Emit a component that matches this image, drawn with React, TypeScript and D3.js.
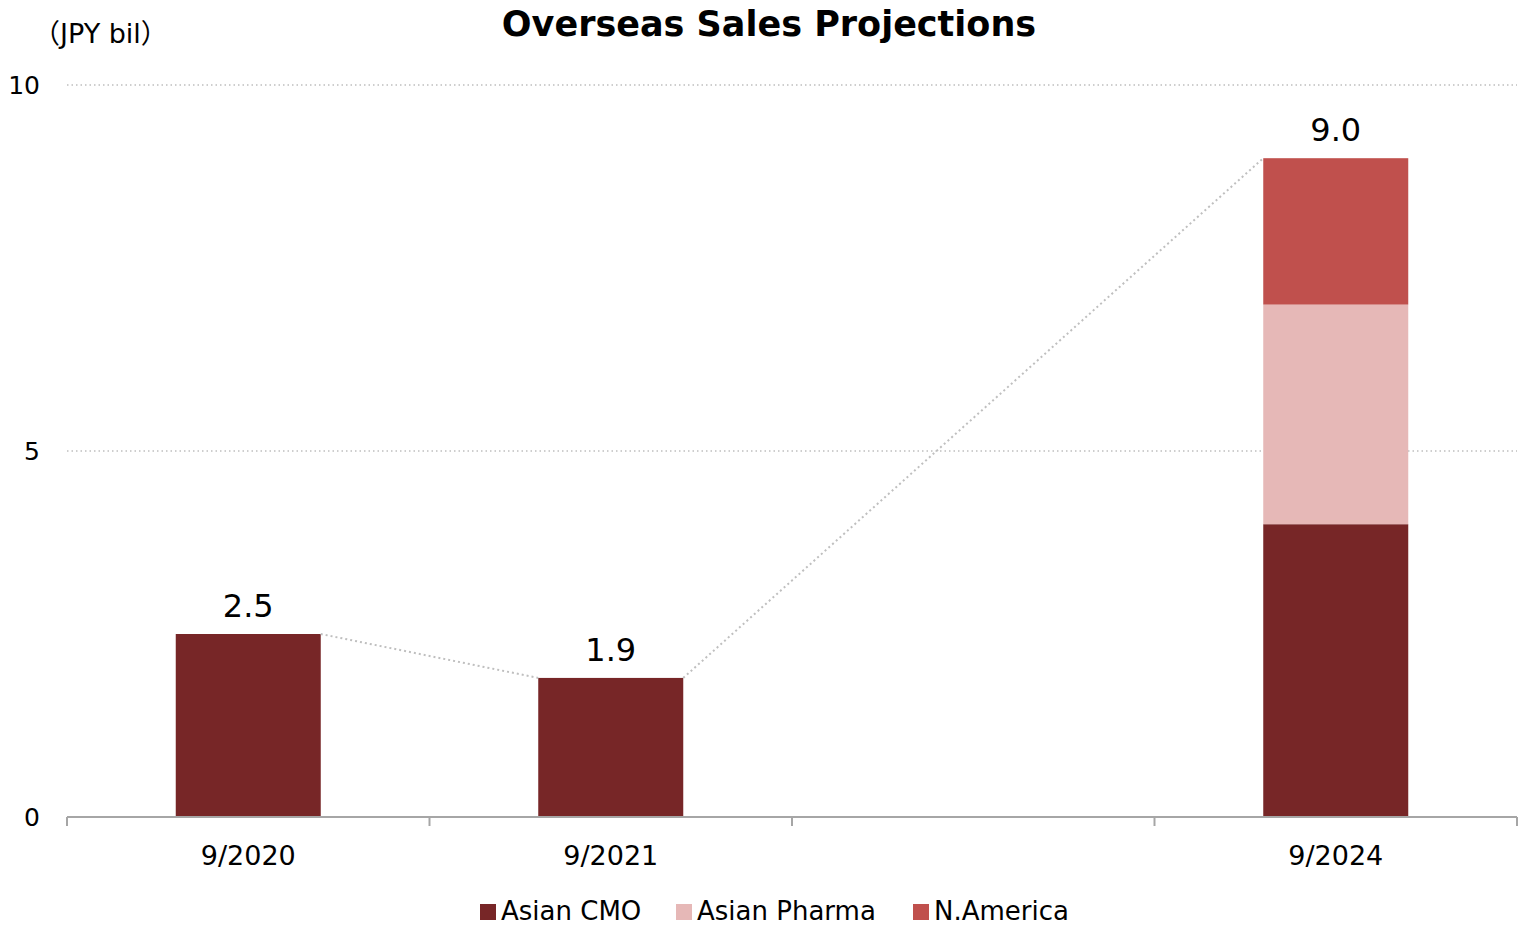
import React from "react";
import * as d3 from "d3";

const categories = ["9/2020", "9/2021", "", "9/2024"];
const seriesNames = ["Asian CMO", "Asian Pharma", "N.America"];
const asianCMO: (number | null)[] = [2.5, 1.9, null, 4.0];
const asianPharma: (number | null)[] = [null, null, null, 3.0];
const nAmerica: (number | null)[] = [null, null, null, 2.0];
const totals: (number | null)[] = [2.5, 1.9, null, 9.0];
const totalLabels = ["2.5", "1.9", "", "9.0"];
const yTicks = [0, 5, 10];
const colors = ["#772627", "#E6B8B7", "#C0504D"];

const W = 1518;
const H = 929;
const font = "Verdana, 'DejaVu Sans', 'Noto Sans CJK JP', sans-serif";

export default function App() {
  const x = d3
    .scaleBand<string>()
    .domain(categories.map((c, i) => String(i)))
    .range([67, 1517])
    .paddingInner(0.6)
    .paddingOuter(0.3);
  const y = d3.scaleLinear().domain([0, 10]).range([817, 85]);
  const step = x.step();
  const bw = x.bandwidth();

  const series = [asianCMO, asianPharma, nAmerica];
  const stackData = categories.map((c, i) => {
    const o: any = { key: String(i) };
    seriesNames.forEach((s, j) => (o[s] = series[j][i] ?? 0));
    return o;
  });
  const stacked = d3.stack<any>().keys(seriesNames)(stackData);

  const valid = totals
    .map((t, i) => ({ t, i }))
    .filter((d) => d.t !== null) as { t: number; i: number }[];
  const seriesLines: [number, number, number, number][] = [];
  for (let k = 0; k < valid.length - 1; k++) {
    const a = valid[k];
    const b = valid[k + 1];
    seriesLines.push([
      (x(String(a.i)) as number) + bw,
      y(a.t),
      x(String(b.i)) as number,
      y(b.t),
    ]);
  }

  const tickXs = d3.range(categories.length + 1).map((i) => 67 + i * step);

  const legendX = [480, 676, 913];

  return (
    <svg width={W} height={H} style={{ position: "absolute", left: 0, top: 0 }} fontFamily={font}>
      <rect width={W} height={H} fill="#fff" />
      <text x={769} y={36} textAnchor="middle" fontSize={35} fontWeight="bold" fill="#000">
        Overseas Sales Projections
      </text>
      <text x={33} y={43} fontSize={27} fill="#000">
        （JPY bil）
      </text>
      {yTicks.map((t) => (
        <g key={t}>
          {t > 0 && (
            <line
              x1={67}
              x2={1517}
              y1={y(t)}
              y2={y(t)}
              stroke="#BFBFBF"
              strokeWidth={1.5}
              strokeDasharray="1.5,3"
            />
          )}
          <text x={40} y={y(t) + 9} textAnchor="end" fontSize={25} fill="#000">
            {t}
          </text>
        </g>
      ))}
      {stacked.map((layer, j) => (
        <g key={layer.key} fill={colors[j]}>
          {layer.map((d, i) =>
            d[1] - d[0] > 0 ? (
              <rect
                key={i}
                x={x(String(i))}
                y={y(d[1])}
                width={bw}
                height={y(d[0]) - y(d[1])}
              />
            ) : null
          )}
        </g>
      ))}
      {seriesLines.map((l, i) => (
        <line
          key={i}
          x1={l[0]}
          y1={l[1]}
          x2={l[2]}
          y2={l[3]}
          stroke="#BFBFBF"
          strokeWidth={2}
          strokeDasharray="2,3"
        />
      ))}
      {totals.map((t, i) =>
        t !== null ? (
          <text
            key={i}
            x={(x(String(i)) as number) + bw / 2}
            y={y(t) - 17}
            textAnchor="middle"
            fontSize={32}
            fill="#000"
          >
            {totalLabels[i]}
          </text>
        ) : null
      )}
      <line x1={67} x2={1517} y1={817} y2={817} stroke="#A6A6A6" strokeWidth={2} />
      {tickXs.map((tx, i) => (
        <line key={i} x1={tx} x2={tx} y1={817} y2={826} stroke="#A6A6A6" strokeWidth={2} />
      ))}
      {categories.map((c, i) => (
        <text
          key={i}
          x={(x(String(i)) as number) + bw / 2}
          y={865}
          textAnchor="middle"
          fontSize={27}
          fill="#000"
        >
          {c}
        </text>
      ))}
      {seriesNames.map((s, j) => (
        <g key={s}>
          <rect x={legendX[j]} y={904} width={16} height={16} fill={colors[j]} />
          <text x={legendX[j] + 21} y={920} fontSize={26} fill="#000">
            {s}
          </text>
        </g>
      ))}
    </svg>
  );
}
